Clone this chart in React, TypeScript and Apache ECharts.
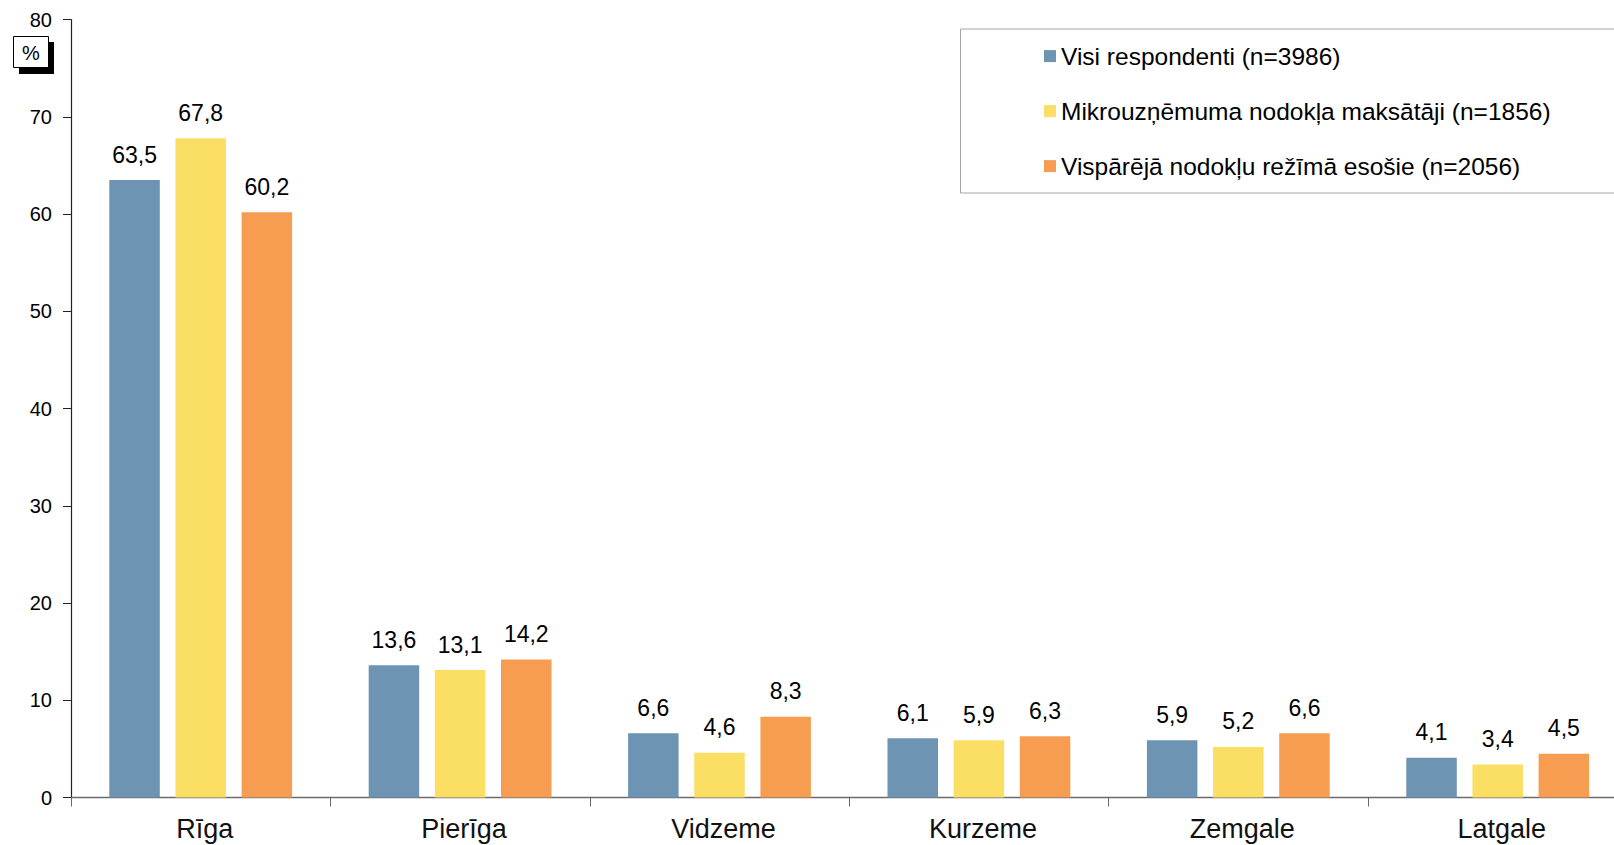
import React, { useEffect, useRef } from "react";
import * as echarts from "echarts";

const categories = ["Rīga", "Pierīga", "Vidzeme", "Kurzeme", "Zemgale", "Latgale"];
const seriesNames = [
  "Visi respondenti (n=3986)",
  "Mikrouzņēmuma nodokļa maksātāji (n=1856)",
  "Vispārējā nodokļu režīmā esošie (n=2056)",
];
const allRespondents = [63.5, 13.6, 6.6, 6.1, 5.9, 4.1];
const microTaxPayers = [67.8, 13.1, 4.6, 5.9, 5.2, 3.4];
const generalRegime = [60.2, 14.2, 8.3, 6.3, 6.6, 4.5];
const yTicks = { min: 0, max: 80, interval: 10 };

const colors = ["#6D94B2", "#FADF64", "#F79D52"];
const FONT = "'Liberation Sans', Arial, sans-serif";

export default function App() {
  const ref = useRef<HTMLDivElement>(null);
  useEffect(() => {
    if (!ref.current) return;
    const chart = echarts.init(ref.current, null, { renderer: "svg" });
    const values = [allRespondents, microTaxPayers, generalRegime];
    const series = values.map((data, i) => ({
      name: seriesNames[i],
      type: "bar",
      data,
      barWidth: 50.5,
      barGap: "31%",
      itemStyle: { color: colors[i] },
      label: {
        show: true,
        position: "top",
        distance: 14,
        fontSize: 23,
        fontFamily: FONT,
        color: "#000",
        formatter: (p: any) => Number(p.value).toFixed(1).replace(".", ","),
      },
    }));
    chart.setOption({
      animation: false,
      textStyle: { fontFamily: FONT },
      grid: { left: 71, top: 19.6, bottom: 47.5, right: 12.6, containLabel: false },
      xAxis: {
        type: "category",
        data: categories,
        axisLine: { lineStyle: { color: "#6b6b6b", width: 1.3 } },
        axisTick: { show: true, alignWithLabel: false, length: 9, lineStyle: { color: "#6b6b6b" } },
        axisLabel: {
          fontSize: 27,
          color: "#111",
          margin: 18,
          fontFamily: FONT,
          interval: 0,
          padding: [0, 0, 0, 8],
        },
      },
      yAxis: {
        type: "value",
        min: yTicks.min,
        max: yTicks.max,
        interval: yTicks.interval,
        splitLine: { show: false },
        axisLine: { show: true, lineStyle: { color: "#222", width: 1.2 } },
        axisTick: { show: true, length: 8, lineStyle: { color: "#222" } },
        axisLabel: { fontSize: 20, color: "#000", margin: 19, fontFamily: FONT },
      },
      legend: {
        orient: "vertical",
        left: 1039,
        top: 38.6,
        itemWidth: 12,
        itemHeight: 12,
        itemGap: 30,
        icon: "rect",
        data: seriesNames,
        textStyle: { fontSize: 24.5, lineHeight: 24, color: "#000", fontFamily: FONT },
        z: 10,
      },
      graphic: [
        {
          type: "rect",
          shape: { x: 960.5, y: 29, width: 700, height: 164 },
          style: { fill: "#fff", stroke: "#a6a6a6", lineWidth: 1 },
          z: 1,
        },
        {
          type: "rect",
          shape: { x: 19, y: 42, width: 35, height: 32 },
          style: { fill: "#000" },
          z: 1,
        },
        {
          type: "rect",
          shape: { x: 13.5, y: 36.5, width: 35, height: 31 },
          style: { fill: "#fff", stroke: "#000", lineWidth: 1 },
          z: 2,
        },
        {
          type: "text",
          x: 31,
          y: 53,
          style: {
            text: "%",
            fontSize: 20,
            fontFamily: FONT,
            fill: "#000",
            align: "center",
            verticalAlign: "middle",
          },
          z: 3,
        },
      ],
      series,
    });
    return () => chart.dispose();
  }, []);
  return (
    <div
      style={{
        position: "absolute",
        left: 0,
        top: 0,
        width: 1614,
        height: 845,
        overflow: "hidden",
        background: "#fff",
      }}
    >
      <div ref={ref} style={{ width: 1640, height: 845 }} />
    </div>
  );
}
